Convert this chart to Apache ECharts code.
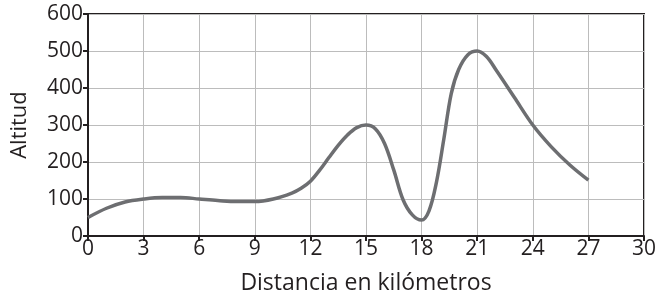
<!DOCTYPE html>
<html>
<head>
<meta charset="utf-8">
<script src="https://cdn.jsdelivr.net/npm/echarts@6/dist/echarts.min.js"></script>
<style>
  html, body { margin: 0; padding: 0; background: #fff; }
  #chart-container { width: 657px; height: 298px; }
</style>
</head>
<body>
<div id="chart-container"></div>
<script>
// distancia (km) y altitud
var distancias = [0, 1, 2, 3, 4, 5, 6, 7, 8, 9, 10, 11, 11.5, 12, 12.5, 13, 13.5, 14, 14.5, 15, 15.5, 16, 16.5, 17, 17.5, 18, 18.4, 18.8, 19.2, 19.6, 20, 20.5, 21, 21.5, 22, 23, 24, 25, 26, 27];
var altitudes = [50, 75, 92, 100, 104, 104, 100, 96, 93, 93, 100, 116, 129, 148, 178, 212, 245, 273, 293, 300, 290, 250, 178, 98, 57, 43, 68, 145, 262, 385, 450, 490, 500, 485, 450, 375, 300, 241, 192, 151];
var xTicks = [0, 3, 6, 9, 12, 15, 18, 21, 24, 27, 30];
var yTicks = [0, 100, 200, 300, 400, 500, 600];

var dom = document.getElementById('chart-container');
var myChart = echarts.init(dom);

var datos = distancias.map(function (d, i) {
  return [d, altitudes[i]];
});

var fuente = '"Open Sans", sans-serif';
var oscuro = '#231f20';

myChart.setOption({
  animation: false,
  backgroundColor: '#fff',
  grid: {
    left: 88,
    right: 13,
    top: 14,
    bottom: 62,
    outerBoundsMode: 'none',
    containLabel: false,
    show: true,
    borderColor: oscuro,
    borderWidth: 2
  },
  xAxis: {
    type: 'value',
    min: 0,
    max: 30,
    interval: 3,
    name: 'Distancia en kilómetros',
    nameLocation: 'middle',
    nameGap: 36,
    nameTextStyle: { fontFamily: fuente, fontSize: 23, color: oscuro },
    axisLine: { show: true, lineStyle: { color: oscuro, width: 2 } },
    axisTick: { show: true, length: 5, lineStyle: { color: oscuro, width: 2 } },
    axisLabel: { fontFamily: fuente, fontSize: 21, color: oscuro, margin: 3 },
    splitLine: { show: true, lineStyle: { color: '#bcbcbc', width: 1 } }
  },
  yAxis: {
    type: 'value',
    min: 0,
    max: 600,
    interval: 100,
    name: 'Altitud',
    nameLocation: 'middle',
    nameGap: 57,
    nameRotate: 90,
    nameTextStyle: { fontFamily: fuente, fontSize: 22, color: oscuro },
    axisLine: { show: true, lineStyle: { color: oscuro, width: 2 } },
    axisTick: { show: true, length: 5, lineStyle: { color: oscuro, width: 2 } },
    axisLabel: { fontFamily: fuente, fontSize: 21, color: oscuro, margin: 5 },
    splitLine: { show: true, lineStyle: { color: '#bcbcbc', width: 1 } }
  },
  series: [
    {
      type: 'line',
      data: datos,
      smooth: 0.35,
      showSymbol: false,
      lineStyle: { color: '#6d6e71', width: 3.5 }
    }
  ]
});

window.addEventListener('resize', myChart.resize);
</script>
</body>
</html>
